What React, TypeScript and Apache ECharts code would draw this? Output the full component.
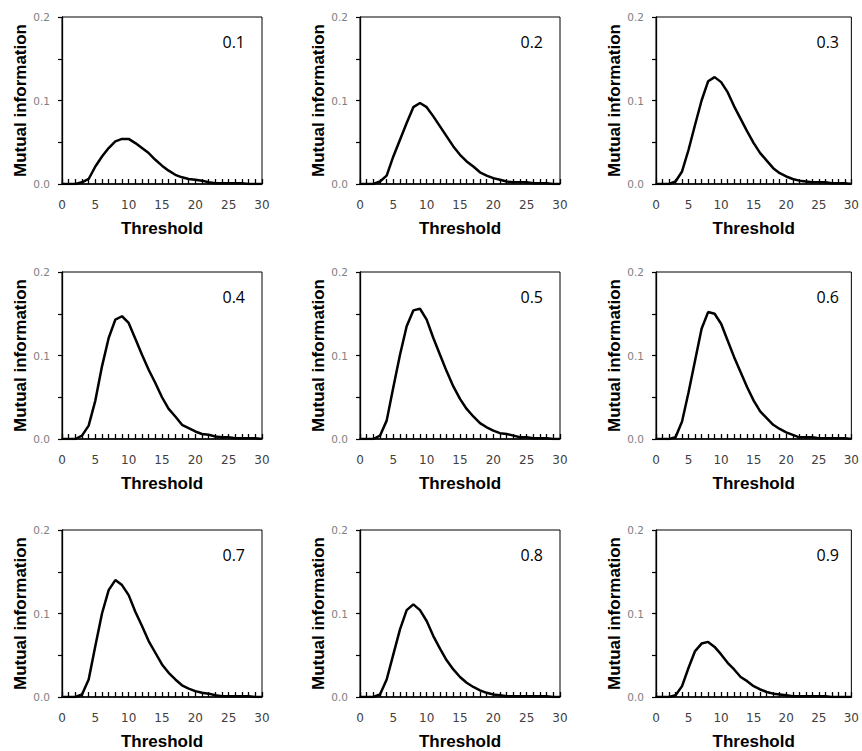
import React, { useEffect, useRef } from "react";
import * as echarts from "echarts";

const thresholds = [0,1,2,3,4,5,6,7,8,9,10,11,12,13,14,15,16,17,18,19,20,21,22,23,24,25,26,27,28,29,30];

const panelLabels = ["0.1", "0.2", "0.3", "0.4", "0.5", "0.6", "0.7", "0.8", "0.9"];

const mi01 = [0,0,0,0.002,0.006,0.021,0.033,0.043,0.051,0.054,0.054,0.049,0.043,0.037,0.029,0.022,0.016,0.011,0.008,0.006,0.005,0.004,0.002,0.001,0.001,0.001,0.001,0.001,0,0,0];
const mi02 = [0,0,0,0.003,0.010,0.033,0.053,0.073,0.092,0.097,0.092,0.081,0.069,0.057,0.045,0.035,0.027,0.021,0.014,0.010,0.007,0.005,0.003,0.002,0.002,0.002,0.001,0.001,0.001,0,0];
const mi03 = [0,0,0,0.003,0.015,0.041,0.071,0.100,0.123,0.128,0.122,0.110,0.093,0.078,0.063,0.049,0.037,0.028,0.019,0.013,0.009,0.006,0.004,0.003,0.002,0.002,0.002,0.001,0.001,0.001,0];
const mi04 = [0,0,0,0.004,0.016,0.046,0.087,0.121,0.143,0.147,0.139,0.120,0.101,0.083,0.067,0.050,0.036,0.027,0.017,0.013,0.009,0.006,0.005,0.003,0.002,0.002,0.001,0.001,0.001,0.001,0];
const mi05 = [0,0,0,0.004,0.022,0.062,0.101,0.135,0.154,0.156,0.143,0.121,0.101,0.081,0.063,0.048,0.036,0.027,0.019,0.014,0.010,0.007,0.006,0.004,0.002,0.002,0.001,0.001,0.001,0,0];
const mi06 = [0,0,0,0.002,0.021,0.056,0.094,0.132,0.152,0.150,0.138,0.118,0.098,0.080,0.062,0.046,0.033,0.025,0.017,0.012,0.008,0.005,0.002,0.002,0.002,0.001,0.001,0.001,0.001,0.001,0];
const mi07 = [0,0,0,0.003,0.021,0.061,0.100,0.128,0.140,0.134,0.122,0.102,0.085,0.067,0.053,0.039,0.029,0.021,0.014,0.010,0.007,0.005,0.004,0.002,0.001,0.001,0.001,0.001,0.001,0,0];
const mi08 = [0,0,0,0.003,0.021,0.051,0.081,0.104,0.111,0.104,0.091,0.073,0.058,0.044,0.033,0.024,0.017,0.012,0.008,0.005,0.003,0.002,0.001,0.001,0.001,0.001,0.001,0.001,0.001,0,0];
const mi09 = [0,0,0,0.002,0.013,0.035,0.055,0.064,0.066,0.060,0.051,0.041,0.033,0.024,0.019,0.013,0.009,0.006,0.004,0.003,0.002,0.001,0.001,0.001,0.001,0.001,0.001,0,0,0,0];

const allSeries = [mi01, mi02, mi03, mi04, mi05, mi06, mi07, mi08, mi09];

const xTitle = "Threshold";
const yTitle = "Mutual information";

export default function App() {
  const ref = useRef<HTMLDivElement>(null);

  useEffect(() => {
    if (!ref.current) return;
    const chart = echarts.init(ref.current, null, { renderer: "svg" });

    const colLefts = [62, 360, 656];
    const rowTops = [17, 272, 530];
    const w = 200;
    const h = 167;

    const grids: any[] = [];
    const xAxes: any[] = [];
    const yAxes: any[] = [];
    const series: any[] = [];
    const graphics: any[] = [];

    allSeries.forEach((vals, i) => {
      const r = Math.floor(i / 3);
      const c = i % 3;
      const left = colLefts[c];
      const top = rowTops[r];
      grids.push({
        left,
        top,
        width: w,
        height: h,
        show: true,
        borderColor: "#000",
        borderWidth: 1,
        backgroundColor: "transparent",
      });
      xAxes.push({
        type: "value",
        gridIndex: i,
        min: 0,
        max: 30,
        interval: 5,
        name: xTitle,
        nameLocation: "middle",
        nameGap: 36,
        nameTextStyle: {
          fontFamily: "Liberation Sans",
          fontWeight: "bold",
          fontSize: 17,
          color: "#000",
        },
        axisLine: { show: true, onZero: false, lineStyle: { color: "#000", width: 1.6 } },
        axisTick: { show: true, inside: true, length: 5, lineStyle: { color: "#000", width: 1.3 } },
        minorTick: { show: true, splitNumber: 5, length: 5, lineStyle: { color: "#000", width: 1.3 } },
        splitLine: { show: false },
        minorSplitLine: { show: false },
        axisLabel: {
          fontFamily: "DejaVu Sans",
          fontSize: 12,
          color: "#404040",
          margin: 15,
        },
        z: 10,
      });
      yAxes.push({
        type: "value",
        gridIndex: i,
        min: 0,
        max: 0.2,
        interval: 0.1,
        name: yTitle,
        nameLocation: "middle",
        nameGap: 33,
        nameTextStyle: {
          fontFamily: "Liberation Sans",
          fontWeight: "bold",
          fontSize: 17,
          color: "#000",
        },
        axisLine: { show: true, lineStyle: { color: "#000", width: 1.3 } },
        axisTick: { show: true, inside: false, length: 4, lineStyle: { color: "#000", width: 1.2 } },
        minorTick: { show: true, splitNumber: 2, length: 4, lineStyle: { color: "#000", width: 1.2 } },
        splitLine: { show: false },
        minorSplitLine: { show: false },
        axisLabel: {
          fontFamily: "DejaVu Sans",
          fontSize: 10.5,
          color: "#808080",
          margin: 12,
          formatter: (v: number) => v.toFixed(1),
        },
        z: 10,
      });
      series.push({
        type: "line",
        xAxisIndex: i,
        yAxisIndex: i,
        data: thresholds.map((t, k) => [t, vals[k]]),
        showSymbol: false,
        symbol: "none",
        lineStyle: { color: "#000", width: 2.5 },
        smooth: false,
        silent: true,
        z: 2,
      });
      graphics.push({
        type: "text",
        x: left + w - 17,
        y: top + 25,
        style: {
          text: panelLabels[i],
          align: "right",
          verticalAlign: "middle",
          fontFamily: "Open Sans",
          fontSize: 16,
          fill: "#000",
        },
      });
    });

    chart.setOption({
      animation: false,
      backgroundColor: "#fff",
      grid: grids,
      xAxis: xAxes,
      yAxis: yAxes,
      series,
      graphic: graphics,
    });

    return () => chart.dispose();
  }, []);

  return (
    <div
      ref={ref}
      style={{ position: "absolute", left: 0, top: 0, width: 862, height: 751 }}
    />
  );
}
